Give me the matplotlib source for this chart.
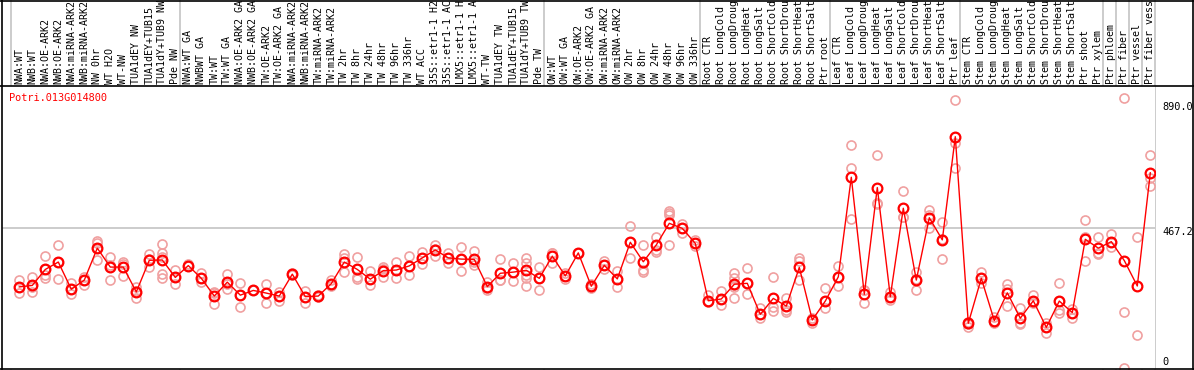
import matplotlib
matplotlib.use("Agg")
import matplotlib.pyplot as plt
import matplotlib.transforms as mtransforms
from matplotlib.lines import Line2D
import numpy as np

gene = "Potri.013G014800"

samples = [
    "NWA:WT", "NWB:WT", "NWA:OE-ARK2", "NWB:OE-ARK2", "NWA:miRNA-ARK2", "NWB:miRNA-ARK2",
    "NW 0hr", "WT H2O", "WT-NW", "TUA1dEY NW", "TUA1dEY+TUB15", "TUA1dY+TUB9 NW", "Pde NW",
    "NWA:WT GA", "NWBWT GA", "TW:WT", "TW:WT GA", "NWA:OE-ARK2 GA", "NWB:OE-ARK2 GA",
    "TW:OE-ARK2", "TW:OE-ARK2 GA", "NWA:miRNA-ARK2", "NWB:miRNA-ARK2", "TW:miRNA-ARK2",
    "TW:miRNA-ARK2", "TW 2hr", "TW 8hr", "TW 24hr", "TW 48hr", "TW 96hr", "TW 336hr",
    "WT ACC", "35S::etr1-1 H2", "35S::etr1-1 AC", "LMX5::etr1-1 H", "LMX5::etr1-1 A",
    "WT-TW", "TUA1dEY TW", "TUA1dEY+TUB15", "TUA1dY+TUB9 TW", "Pde TW",
    "OW:WT", "OW:WT GA", "OW:OE-ARK2", "OW:OE-ARK2 GA", "OW:miRNA-ARK2", "OW:miRNA-ARK2",
    "OW 2hr", "OW 8hr", "OW 24hr", "OW 48hr", "OW 96hr", "OW 336hr",
    "Root CTR", "Root LongCold", "Root LongDroug", "Root LongHeat", "Root LongSalt",
    "Root ShortCold", "Root ShortDrou", "Root ShortHeat", "Root ShortSalt", "Ptr root",
    "Leaf CTR", "Leaf LongCold", "Leaf LongDroug", "Leaf LongHeat", "Leaf LongSalt",
    "Leaf ShortCold", "Leaf ShortDrou", "Leaf ShortHeat", "Leaf ShortSalt", "Ptr leaf",
    "Stem CTR", "Stem LongCold", "Stem LongDroug", "Stem LongHeat", "Stem LongSalt",
    "Stem ShortCold", "Stem ShortDrou", "Stem ShortHeat", "Stem ShortSalt", "Ptr shoot",
    "Ptr xylem", "Ptr phloem", "Ptr fiber", "Ptr vessel", "Ptr fiber vess",
]

means = [
    269, 274, 328, 353, 261, 292, 400, 336, 336, 252, 359, 360, 301,
    341, 298, 238, 285, 241, 257, 248, 238, 312, 236, 238, 280, 353, 328, 295,
    324, 326, 340, 367, 394, 367, 363, 362, 270, 315, 319, 325, 298,
    373, 306, 384, 271, 342, 296, 420, 354, 411, 484, 467, 416,
    222, 228, 278, 281, 176, 230, 204, 335, 157, 221,
    303, 640, 244, 605, 236, 535, 292, 503, 428, 777,
    146, 298, 155, 249, 163, 222, 132, 221, 182, 430, 400,
    422, 358, 272, 655,
]

replicates = [
    [292, 268, 247], [302, 270, 253], [373, 330, 309, 298], [410, 353, 295],
    [283, 261, 244], [303, 292, 275], [423, 416, 400, 360], [371, 344, 292],
    [354, 348, 306], [270, 255, 231], [380, 362, 335], [414, 383, 371, 312, 298],
    [326, 301, 278],
    [345, 338], [315, 298, 287], [253, 250, 211], [313, 280, 261], [281, 241, 202],
    [257, 257], [279, 248, 216], [253, 238, 222], [315, 310], [255, 236, 214],
    [240, 236], [292, 280, 272], [379, 368, 319], [369, 328, 301, 296],
    [323, 294, 275], [335, 330, 303], [354, 326, 298], [373, 339, 308],
    [388, 367, 345], [410, 398, 374], [385, 367, 351], [403, 363, 324],
    [390, 353, 343], [285, 266, 258], [362, 292, 291], [349, 319, 290],
    [366, 349, 309, 298, 273], [335, 300, 258],
    [385, 384, 351], [315, 306, 295], [384, 384], [279, 271, 264], [358, 342, 328],
    [324, 296, 268], [475, 420, 366], [411, 354, 326, 320], [437, 411, 394, 388],
    [527, 518, 512, 411], [482, 467, 450], [428, 416, 407],
    [242, 222, 219], [255, 228, 208], [315, 298, 276, 268, 230], [332, 281, 245],
    [197, 176, 163], [301, 200, 187], [230, 204, 191, 185], [366, 358, 292],
    [163, 157, 148], [264, 221, 196],
    [340, 303, 272], [749, 670, 498], [258, 258, 216], [715, 553, 549],
    [253, 236, 225], [593, 506, 506], [320, 296, 260], [529, 513, 467],
    [490, 431, 362], [901, 757, 672],
    [150, 145, 134], [320, 298, 281], [166, 155, 146], [279, 263, 205],
    [199, 146, 143], [242, 222, 213], [148, 132, 112], [281, 221, 191, 182],
    [193, 182, 163], [495, 439, 358], [439, 385, 380],
    [448, 422, 403], [907, 183, -6], [437, 105], [715, 636, 610],
]

group_sizes = [13, 28, 12, 10, 10, 11, 1, 1, 1, 1]
ref_line = 467.2
y_ticks = [890.0, 467.2, 0]
y_tick_labels = ["890.0", "467.2", "0"]

W, H = 1194, 370
fig = plt.figure(figsize=(W / 100, H / 100), dpi=100)

def fx(p):
    return p / W

def fy(p):
    return 1 - p / H

ax_left, ax_right, ax_top, ax_bottom = 1.5, 1155.0, 86.0, 368.5
ax = fig.add_axes([fx(ax_left), fy(ax_bottom), fx(ax_right - ax_left), (ax_bottom - ax_top) / H])
for s in ax.spines.values():
    s.set_visible(False)
ax.set_xticks([])
ax.set_yticks([])

n = len(samples)
x = np.arange(n)
step = 13.0
x0pix = 19.3
ax.set_xlim((ax_left - x0pix) / step, (ax_right - x0pix) / step)
ypx_per = 0.2956
y0pix = 366.4
ax.set_ylim((y0pix - ax_bottom) / ypx_per, (y0pix - ax_top) / ypx_per)

ax.axhline(ref_line, color="#c8c8c8", lw=1.3, zorder=0)

rep_color = "#f0a0a0"
for i, reps in enumerate(replicates):
    ax.plot([i] * len(reps), reps, "o", mfc="none", mec=rep_color, ms=6.5, mew=1.2, zorder=2, clip_on=False)

ax.plot(x, means, "-", color="#ff0000", lw=1.0, zorder=3)
ax.plot(x, means, "o", mfc="none", mec="#ff0000", ms=7, mew=1.6, zorder=4)

# group separators (vertical gray lines through header and plot)
bounds = np.concatenate([[0], np.cumsum(group_sizes)]) - 0.64
vtrans = mtransforms.blended_transform_factory(ax.transData, fig.transFigure)
for b in bounds:
    fig.add_artist(Line2D([b, b], [fy(ax_bottom), 1.0], transform=vtrans, color="#c8c8c8", lw=1.3, zorder=0))

# sample labels in header
mono = "DejaVu Sans Mono"
for i, lab in zip(x, samples):
    fig.text(i, fy(83.5), lab, transform=vtrans, rotation=90, ha="center", va="bottom",
             fontsize=7.2, family=mono, color="black")

# gene name
fig.text(fx(9.0), fy(97.7), gene, color="#ff0000", fontsize=7.4, family=mono, ha="left", va="center")

# right-side value labels
htrans = mtransforms.blended_transform_factory(fig.transFigure, ax.transData)
for v, lab in zip(y_ticks, y_tick_labels):
    off = -2.4 if v != 0 else 3.2
    tr = mtransforms.offset_copy(htrans, fig=fig, x=0, y=off, units="points")
    fig.text(fx(1162.5), v, lab, transform=tr, ha="left", va="center", fontsize=7.4, family=mono, color="black")

# borders
def hline(ypix, x1, x2, color="black", lw=1.2):
    fig.add_artist(Line2D([fx(x1), fx(x2)], [fy(ypix), fy(ypix)], transform=fig.transFigure, color=color, lw=lw))

def vline(xpix, y1, y2, color="black", lw=1.2):
    fig.add_artist(Line2D([fx(xpix), fx(xpix)], [fy(y1), fy(y2)], transform=fig.transFigure, color=color, lw=lw))

hline(0.5, 0, W)
hline(86.0, 0, W)
hline(368.7, 0, W)
vline(1.7, 0, 369)
vline(1192.5, 0, 369)

fig.savefig("out.png", dpi=100)
